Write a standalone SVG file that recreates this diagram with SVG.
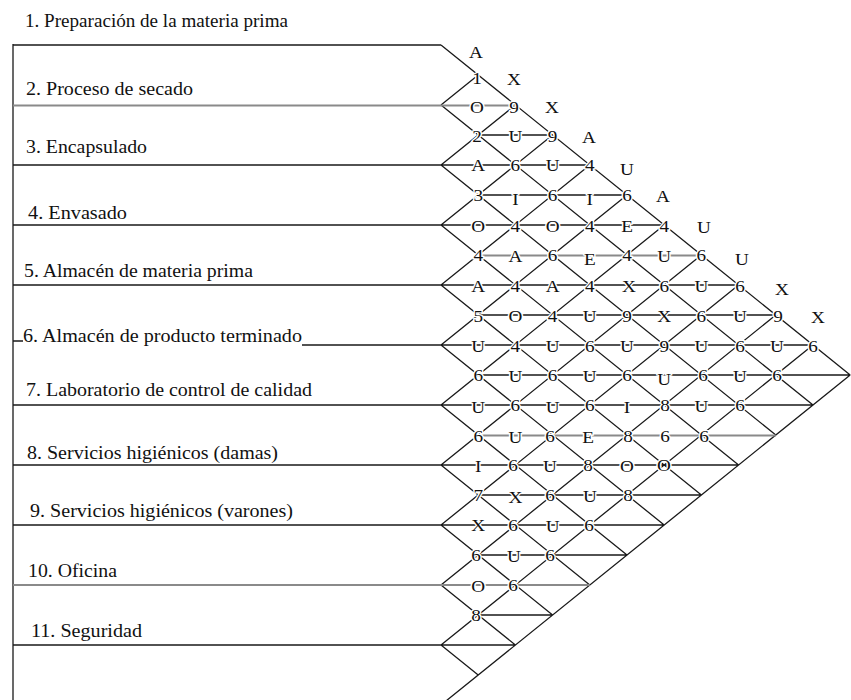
<svg xmlns="http://www.w3.org/2000/svg" width="851" height="700" viewBox="0 0 851 700">
<style>
.bg{fill:#fff}
.ln{fill:none;stroke:#1a1a1a;stroke-width:1.3}
.gr{fill:none;stroke:#8a8a8a;stroke-width:2.2}
.lb{font-family:"Liberation Serif","Times New Roman",serif;font-size:18px;fill:#111}
.c{font-family:"Liberation Serif","Times New Roman",serif;font-size:16px;fill:#111;text-anchor:middle;stroke:#fff;stroke-width:2.5px;paint-order:stroke}
</style>
<rect class="bg" x="0" y="0" width="851" height="700"/>
<g id="connectors">
<path class="ln" d="M13 44V700 M13 45H441 M441 45L850.2 375
M478.2 135H552.6 M13 165H589.8 M478.2 195H627 M13 225H664.2 M13 285H738.6 M478.2 315H775.8
M13 341H23 M302 345H813 M478.2 375H850.2 M13 405H813 M13 465H738.6 M478.2 495H701.4 M13 525H664.2 M478.2 555H627 M478.2 615H552.6 M13 645H515.4
M441 105L813 405 M441 165L775.8 435 M441 225L738.6 465 M441 285L701.4 495 M441 345L664.2 525 M441 405L627 555 M441 465L589.8 585 M441 525L552.6 615 M441 585L515.4 645 M441 645L478.2 675
M441 105L478.2 75 M441 165L515.4 105 M441 225L552.6 135 M441 285L589.8 165 M441 345L627 195 M441 405L664.2 225 M441 465L701.4 255 M441 525L738.6 285 M441 585L775.8 315 M441 645L813 345 M441 705L850.2 375"/>
<path class="gr" d="M13 105.5H515.4 M478.2 255.5H701.4 M478.2 435.5H775.8 M13 585H589.8"/>
</g>
<g id="row-1"><text class="lb" x="25" y="27" font-size="16" textLength="263" lengthAdjust="spacingAndGlyphs">1. Preparación de la materia prima</text></g>
<g id="row-2"><text class="lb" x="26" y="95" textLength="167" lengthAdjust="spacingAndGlyphs">2. Proceso de secado</text></g>
<g id="row-3"><text class="lb" x="26" y="153" textLength="121" lengthAdjust="spacingAndGlyphs">3. Encapsulado</text></g>
<g id="row-4"><text class="lb" x="28" y="219" textLength="99" lengthAdjust="spacingAndGlyphs">4. Envasado</text></g>
<g id="row-5"><text class="lb" x="24" y="277" textLength="229" lengthAdjust="spacingAndGlyphs">5. Almacén de materia prima</text></g>
<g id="row-6"><text class="lb" x="23" y="342" textLength="279" lengthAdjust="spacingAndGlyphs">6. Almacén de producto terminado</text></g>
<g id="row-7"><text class="lb" x="26" y="396" textLength="286" lengthAdjust="spacingAndGlyphs">7. Laboratorio de control de calidad</text></g>
<g id="row-8"><text class="lb" x="27" y="459" textLength="251" lengthAdjust="spacingAndGlyphs">8. Servicios higiénicos (damas)</text></g>
<g id="row-9"><text class="lb" x="30" y="517" textLength="263" lengthAdjust="spacingAndGlyphs">9. Servicios higiénicos (varones)</text></g>
<g id="row-10"><text class="lb" x="28" y="577" textLength="89" lengthAdjust="spacingAndGlyphs">10. Oficina</text></g>
<g id="row-11"><text class="lb" x="31" y="637" textLength="111" lengthAdjust="spacingAndGlyphs">11. Seguridad</text></g>
<g id="outer-letters">
<text class="c" transform="translate(476,58) scale(1.2,1)">A</text>
<text class="c" transform="translate(514,85) scale(1.2,1)">X</text>
<text class="c" transform="translate(552,113) scale(1.2,1)">X</text>
<text class="c" transform="translate(589,143) scale(1.2,1)">A</text>
<text class="c" transform="translate(627,175) scale(1.2,1)">U</text>
<text class="c" transform="translate(663,202) scale(1.2,1)">A</text>
<text class="c" transform="translate(704,233) scale(1.2,1)">U</text>
<text class="c" transform="translate(742,265) scale(1.2,1)">U</text>
<text class="c" transform="translate(782,295) scale(1.2,1)">X</text>
<text class="c" transform="translate(818,323) scale(1.2,1)">X</text>
</g>
<g id="level-1"><text class="c" transform="translate(477,84) scale(1.2,1)">1</text></g>
<g id="level-2">
<text class="c" transform="translate(477,113) scale(1.2,1)">O</text>
<text class="c" transform="translate(514,113) scale(1.2,1)">9</text>
</g>
<g id="level-3">
<text class="c" transform="translate(477,142) scale(1.2,1)">2</text>
<text class="c" transform="translate(515.4,142) scale(1.2,1)">U</text>
<text class="c" transform="translate(552.6,142) scale(1.2,1)">9</text>
</g>
<g id="level-4">
<text class="c" transform="translate(478.2,171) scale(1.2,1)">A</text>
<text class="c" transform="translate(515.4,171) scale(1.2,1)">6</text>
<text class="c" transform="translate(552.6,171) scale(1.2,1)">U</text>
<text class="c" transform="translate(589.8,171) scale(1.2,1)">4</text>
</g>
<g id="level-5">
<text class="c" transform="translate(478.2,201) scale(1.2,1)">3</text>
<text class="c" transform="translate(515.4,205) scale(1.2,1)">I</text>
<text class="c" transform="translate(552.6,201) scale(1.2,1)">6</text>
<text class="c" transform="translate(589.8,205) scale(1.2,1)">I</text>
<text class="c" transform="translate(627,201) scale(1.2,1)">6</text>
</g>
<g id="level-6">
<text class="c" transform="translate(478.2,232) scale(1.2,1)">O</text>
<text class="c" transform="translate(515.4,232) scale(1.2,1)">4</text>
<text class="c" transform="translate(552.6,232) scale(1.2,1)">O</text>
<text class="c" transform="translate(589.8,232) scale(1.2,1)">4</text>
<text class="c" transform="translate(627,232) scale(1.2,1)">E</text>
<text class="c" transform="translate(664.2,232) scale(1.2,1)">4</text>
</g>
<g id="level-7">
<text class="c" transform="translate(478.2,261) scale(1.2,1)">4</text>
<text class="c" transform="translate(515.4,262) scale(1.2,1)">A</text>
<text class="c" transform="translate(552.6,261) scale(1.2,1)">6</text>
<text class="c" transform="translate(589.8,265) scale(1.2,1)">E</text>
<text class="c" transform="translate(627,261) scale(1.2,1)">4</text>
<text class="c" transform="translate(664.2,262) scale(1.2,1)">U</text>
<text class="c" transform="translate(701.4,261) scale(1.2,1)">6</text>
</g>
<g id="level-8">
<text class="c" transform="translate(478.2,292) scale(1.2,1)">A</text>
<text class="c" transform="translate(515.4,292) scale(1.2,1)">4</text>
<text class="c" transform="translate(552.6,292) scale(1.2,1)">A</text>
<text class="c" transform="translate(589.8,292) scale(1.2,1)">4</text>
<text class="c" transform="translate(629,292) scale(1.2,1)">X</text>
<text class="c" transform="translate(664.2,292) scale(1.2,1)">6</text>
<text class="c" transform="translate(701.4,292) scale(1.2,1)">U</text>
<text class="c" transform="translate(740,292) scale(1.2,1)">6</text>
</g>
<g id="level-9">
<text class="c" transform="translate(478.2,322) scale(1.2,1)">5</text>
<text class="c" transform="translate(515.4,322) scale(1.2,1)">O</text>
<text class="c" transform="translate(552.6,322) scale(1.2,1)">4</text>
<text class="c" transform="translate(589.8,322) scale(1.2,1)">U</text>
<text class="c" transform="translate(627,322) scale(1.2,1)">9</text>
<text class="c" transform="translate(664.2,322) scale(1.2,1)">X</text>
<text class="c" transform="translate(701.4,322) scale(1.2,1)">6</text>
<text class="c" transform="translate(740,322) scale(1.2,1)">U</text>
<text class="c" transform="translate(778,322) scale(1.2,1)">9</text>
</g>
<g id="level-10">
<text class="c" transform="translate(478.2,352) scale(1.2,1)">U</text>
<text class="c" transform="translate(515.4,352) scale(1.2,1)">4</text>
<text class="c" transform="translate(552.6,352) scale(1.2,1)">U</text>
<text class="c" transform="translate(589.8,352) scale(1.2,1)">6</text>
<text class="c" transform="translate(627,352) scale(1.2,1)">U</text>
<text class="c" transform="translate(664.2,352) scale(1.2,1)">9</text>
<text class="c" transform="translate(701.4,352) scale(1.2,1)">U</text>
<text class="c" transform="translate(740,352) scale(1.2,1)">6</text>
<text class="c" transform="translate(777,352) scale(1.2,1)">U</text>
<text class="c" transform="translate(813,352) scale(1.2,1)">6</text>
</g>
<g id="level-11">
<text class="c" transform="translate(478.2,381) scale(1.2,1)">6</text>
<text class="c" transform="translate(515.4,382) scale(1.2,1)">U</text>
<text class="c" transform="translate(552.6,381) scale(1.2,1)">6</text>
<text class="c" transform="translate(589.8,382) scale(1.2,1)">U</text>
<text class="c" transform="translate(627,381) scale(1.2,1)">6</text>
<text class="c" transform="translate(664.2,385) scale(1.2,1)">U</text>
<text class="c" transform="translate(703,381) scale(1.2,1)">6</text>
<text class="c" transform="translate(740,382) scale(1.2,1)">U</text>
<text class="c" transform="translate(777,381) scale(1.2,1)">6</text>
</g>
<g id="level-12">
<text class="c" transform="translate(478.2,413) scale(1.2,1)">U</text>
<text class="c" transform="translate(515.4,411) scale(1.2,1)">6</text>
<text class="c" transform="translate(552.6,413) scale(1.2,1)">U</text>
<text class="c" transform="translate(589.8,411) scale(1.2,1)">6</text>
<text class="c" transform="translate(627,413) scale(1.2,1)">I</text>
<text class="c" transform="translate(665,411) scale(1.2,1)">8</text>
<text class="c" transform="translate(701.4,412) scale(1.2,1)">U</text>
<text class="c" transform="translate(740,411) scale(1.2,1)">6</text>
</g>
<g id="level-13">
<text class="c" transform="translate(478.2,442) scale(1.2,1)">6</text>
<text class="c" transform="translate(515.4,443) scale(1.2,1)">U</text>
<text class="c" transform="translate(550,442) scale(1.2,1)">6</text>
<text class="c" transform="translate(588,443) scale(1.2,1)">E</text>
<text class="c" transform="translate(628,442) scale(1.2,1)">8</text>
<text class="c" transform="translate(665,442) scale(1.2,1)">6</text>
<text class="c" transform="translate(704,442) scale(1.2,1)">6</text>
</g>
<g id="level-14">
<text class="c" transform="translate(478.2,472) scale(1.2,1)">I</text>
<text class="c" transform="translate(513,471) scale(1.2,1)">6</text>
<text class="c" transform="translate(550,472) scale(1.2,1)">U</text>
<text class="c" transform="translate(588,471) scale(1.2,1)">8</text>
<text class="c" transform="translate(627,472) scale(1.2,1)">O</text>
<text class="c" transform="translate(664,471) scale(1.2,1)">O</text>
</g>
<g id="level-15">
<text class="c" transform="translate(478.2,501) scale(1.2,1)">7</text>
<text class="c" transform="translate(515.4,503) scale(1.2,1)">X</text>
<text class="c" transform="translate(550,501) scale(1.2,1)">6</text>
<text class="c" transform="translate(590,502) scale(1.2,1)">U</text>
<text class="c" transform="translate(628,501) scale(1.2,1)">8</text>
</g>
<g id="level-16">
<text class="c" transform="translate(478.2,531) scale(1.2,1)">X</text>
<text class="c" transform="translate(513,531) scale(1.2,1)">6</text>
<text class="c" transform="translate(552.6,532) scale(1.2,1)">U</text>
<text class="c" transform="translate(589,531) scale(1.2,1)">6</text>
</g>
<g id="level-17">
<text class="c" transform="translate(476,561) scale(1.2,1)">6</text>
<text class="c" transform="translate(514,562) scale(1.2,1)">U</text>
<text class="c" transform="translate(550,561) scale(1.2,1)">6</text>
</g>
<g id="level-18">
<text class="c" transform="translate(478.2,592) scale(1.2,1)">O</text>
<text class="c" transform="translate(513,591) scale(1.2,1)">6</text>
</g>
<g id="level-19"><text class="c" transform="translate(476,621) scale(1.2,1)">8</text></g>
</svg>
